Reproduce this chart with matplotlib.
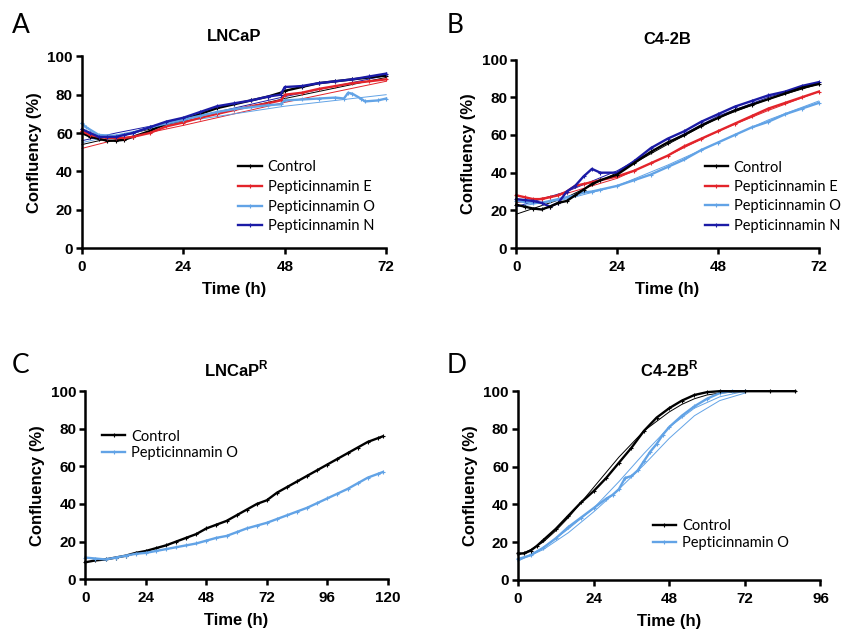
import matplotlib.pyplot as plt

# ---- panel A : LNCaP ----
a_t = [0, 2, 4, 6, 8, 10, 12, 16, 20, 24, 28, 32, 36, 40, 44, 47, 48, 52, 56, 60, 64, 68, 72]
a_ctrl = [60, 58, 57, 56, 56, 56.5, 58, 61, 65, 67, 70, 73, 75, 77, 79, 81, 82, 84, 86, 87, 88, 89, 90]
a_e = [61, 59, 58, 57.5, 57.5, 57.5, 58, 60, 63.5, 65.5, 68, 70, 72, 74, 75.5, 77, 80, 81, 83, 84.5, 86, 87, 88]
a_n = [62, 60, 58, 58, 58, 59, 60, 63, 66, 68, 71, 74, 75.5, 77, 79, 80, 84, 84.5, 86, 87, 88, 89.5, 91]
a_o_t = [0, 1, 4, 8, 12, 16, 20, 24, 28, 32, 36, 40, 44, 47, 48, 52, 56, 60, 62, 63, 64, 66, 67, 70, 72]
a_o = [65, 63, 59, 58.5, 60, 63, 65, 67, 69, 71, 72.5, 73.5, 74.5, 75, 77, 77.5, 78, 78.5, 78, 81, 80.5, 78, 76.5, 77, 78]
a_fit_t = [0, 8, 24, 48, 72]
a_fit_ctrl = [54, 58, 66, 78, 89]
a_fit_e = [52, 56.5, 64, 76, 87]
a_fit_o = [55, 59, 66, 74, 80]
a_fit_n = [56, 60, 67, 79, 90]

# ---- panel B : C4-2B ----
b_t = [0, 2, 4, 6, 8, 10, 12, 14, 16, 18, 20, 24, 28, 32, 36, 40, 44, 48, 52, 56, 60, 64, 68, 72]
b_ctrl = [23, 22, 21, 20.5, 22, 24, 25, 28, 31, 34, 36, 39, 45, 51, 56, 60, 65, 69, 73, 76, 79, 82, 85, 87]
b_e = [28, 27, 26, 26, 27, 28, 30, 33, 34, 35, 36, 38, 41, 45, 49, 54, 58, 62, 66, 70, 74, 77, 80, 83]
b_o = [25, 24.5, 24, 24, 25, 26, 27, 28, 29.5, 30, 31, 33, 36, 39, 43, 47, 52, 56, 60, 64, 67, 71, 74, 77]
b_n = [26, 25.5, 25, 24, 22, 24, 30, 33, 38, 42, 40, 40, 46, 53, 58, 62, 67, 71, 75, 78, 81, 83, 86, 88]
b_fit_t = [0, 12, 24, 36, 48, 60, 72]
b_fit_ctrl = [18, 27, 40, 55, 69, 79, 87]
b_fit_e = [24, 29, 37, 49, 62, 73, 83]
b_fit_o = [22, 26, 33, 44, 56, 68, 78]
b_fit_n = [22, 30, 41, 56, 70, 80, 88]

# ---- panel C : LNCaP R ----
c_t = [0, 4, 8, 12, 16, 20, 24, 28, 32, 36, 40, 44, 48, 52, 56, 60, 64, 68, 72, 76, 80, 84, 88, 92, 96, 100, 104, 108, 112, 116, 118]
c_ctrl = [9, 10, 10.5, 11.5, 12.5, 14, 15, 16.5, 18, 20, 22, 24, 27, 29, 31, 34, 37, 40, 42, 46, 49, 52, 55, 58, 61, 64, 67, 70, 73, 75, 76]
c_o = [11.5, 11, 10.5, 11.5, 12.5, 13.5, 14, 15, 16, 17, 18, 19, 20.5, 22, 23, 25, 27, 28.5, 30, 32, 34, 36, 38, 40.5, 43, 45.5, 48, 51, 54, 56, 57]

# ---- panel D : C4-2B R ----
d_t = [0, 2, 4, 6, 8, 12, 16, 20, 24, 28, 32, 36, 40, 44, 48, 52, 56, 60, 64, 72, 80, 88]
d_ctrl = [14, 14, 15.5, 18, 21, 27, 34, 41, 47, 54, 62, 70, 79, 86, 91, 95, 98, 99.5, 100, 100, 100, 100]
d_fit_ctrl = [13, 14.5, 16, 18, 20, 26, 33, 41, 49, 57, 65, 72, 79, 84, 89, 93, 96, 98, 99, 100, 100, 100]
d_o_t = [0, 4, 8, 12, 16, 20, 24, 28, 30, 32, 34, 36, 38, 40, 42, 44, 46, 48, 52, 56, 60, 64, 68, 72]
d_o = [11, 13, 17, 22, 28, 33, 38, 43, 45, 48, 54, 55, 58, 63, 68, 72, 77, 81, 87, 92, 96, 99, 100, 100]
d_fit_t = [0, 8, 16, 24, 32, 40, 48, 56, 64, 72]
d_fit_o1 = [10, 17, 27, 38, 52, 67, 81, 91, 97, 100]
d_fit_o2 = [10, 16, 25, 36, 48, 61, 75, 87, 95, 99]

BLACK = '#000000'
RED = '#e3242b'
LBLUE = '#62a3e6'
DBLUE = '#1b1ba6'

plt.rcParams['font.family'] = ['Liberation Sans', 'DejaVu Sans']
fig = plt.figure(figsize=(8.45, 6.33), dpi=100)


def leg(ax, h, l, anchor, spacing):
    ax.legend(h, l, loc='upper left', bbox_to_anchor=anchor, frameon=False,
              handlelength=1.6, handletextpad=0.4, labelspacing=spacing,
              borderaxespad=0, prop={'family': 'Lato', 'size': 10.5})


def make_ax(rect, xmax, xticks, title, letter, lx, ly):
    ax = fig.add_axes(rect)
    ax.set_xlim(0, xmax)
    ax.set_ylim(0, 100)
    ax.set_xticks(xticks)
    ax.set_yticks([0, 20, 40, 60, 80, 100])
    for s in ['top', 'right']:
        ax.spines[s].set_visible(False)
    for s in ['left', 'bottom']:
        ax.spines[s].set_linewidth(1.8)
    ax.tick_params(width=1.8, length=4.5, labelsize=11)
    ax.tick_params(axis='x', pad=4)
    ax.tick_params(axis='y', pad=2)
    for lab in ax.get_xticklabels() + ax.get_yticklabels():
        lab.set_fontweight('bold')
    ax.set_xlabel('Time (h)', fontsize=12, fontweight='bold', labelpad=6)
    ax.set_ylabel('Confluency (%)', fontsize=12, fontweight='bold', labelpad=4)
    ax.set_title(title, fontsize=12, fontweight='bold', pad=11)
    fig.text(lx, ly, letter, fontsize=19, family='Lato', ha='left', va='top')
    return ax


def data_line(ax, t, y, c, label=None):
    ax.plot(t, y, color=c, lw=1.7, marker='+', ms=3, mew=0.8, label=label, clip_on=False)


def fit_line(ax, t, y, c):
    ax.plot(t, y, color=c, lw=0.7, clip_on=False)


# A
ax = make_ax([0.097, 0.608, 0.360, 0.303], 72, [0, 24, 48, 72], 'LNCaP', 'A', 0.014, 0.979)
for y, c in [(a_fit_ctrl, BLACK), (a_fit_e, RED), (a_fit_o, LBLUE), (a_fit_n, DBLUE)]:
    fit_line(ax, a_fit_t, y, c)
data_line(ax, a_t, a_ctrl, BLACK, 'Control')
data_line(ax, a_t, a_e, RED, 'Pepticinnamin E')
data_line(ax, a_o_t, a_o, LBLUE, 'Pepticinnamin O')
data_line(ax, a_t, a_n, DBLUE, 'Pepticinnamin N')
h, l = ax.get_legend_handles_labels()
leg(ax, h, l, (0.495, 0.49), 0.4)

# B
ax = make_ax([0.611, 0.608, 0.358, 0.298], 72, [0, 24, 48, 72], 'C4-2B', 'B', 0.529, 0.979)
for y, c in [(b_fit_ctrl, BLACK), (b_fit_e, RED), (b_fit_o, LBLUE), (b_fit_n, DBLUE)]:
    fit_line(ax, b_fit_t, y, c)
data_line(ax, b_t, b_o, LBLUE, 'Pepticinnamin O')
data_line(ax, b_t, b_e, RED, 'Pepticinnamin E')
data_line(ax, b_t, b_n, DBLUE, 'Pepticinnamin N')
data_line(ax, b_t, b_ctrl, BLACK, 'Control')
h, l = ax.get_legend_handles_labels()
order = [3, 1, 0, 2]
leg(ax, [h[i] for i in order], [l[i] for i in order], (0.603, 0.495), 0.37)

# C
ax = make_ax([0.101, 0.085, 0.358, 0.297], 120, [0, 24, 48, 72, 96, 120],
             'LNCaP$^\\mathregular{R}$', 'C', 0.014, 0.443)
data_line(ax, c_t, c_ctrl, BLACK, 'Control')
data_line(ax, c_t, c_o, LBLUE, 'Pepticinnamin O')
h, l = ax.get_legend_handles_labels()
leg(ax, h, l, (0.036, 0.827), 0.17)

# D
ax = make_ax([0.613, 0.084, 0.358, 0.298], 96, [0, 24, 48, 72, 96],
             'C4-2B$^\\mathregular{R}$', 'D', 0.529, 0.443)
fit_line(ax, d_fit_t, d_fit_o1, LBLUE)
fit_line(ax, d_fit_t, d_fit_o2, LBLUE)
fit_line(ax, d_t, d_fit_ctrl, BLACK)
data_line(ax, d_o_t, d_o, LBLUE, 'Pepticinnamin O')
data_line(ax, d_t, d_ctrl, BLACK, 'Control')
h, l = ax.get_legend_handles_labels()
leg(ax, h[::-1], l[::-1], (0.426, 0.351), 0.17)

fig.savefig('out.png', dpi=100)
